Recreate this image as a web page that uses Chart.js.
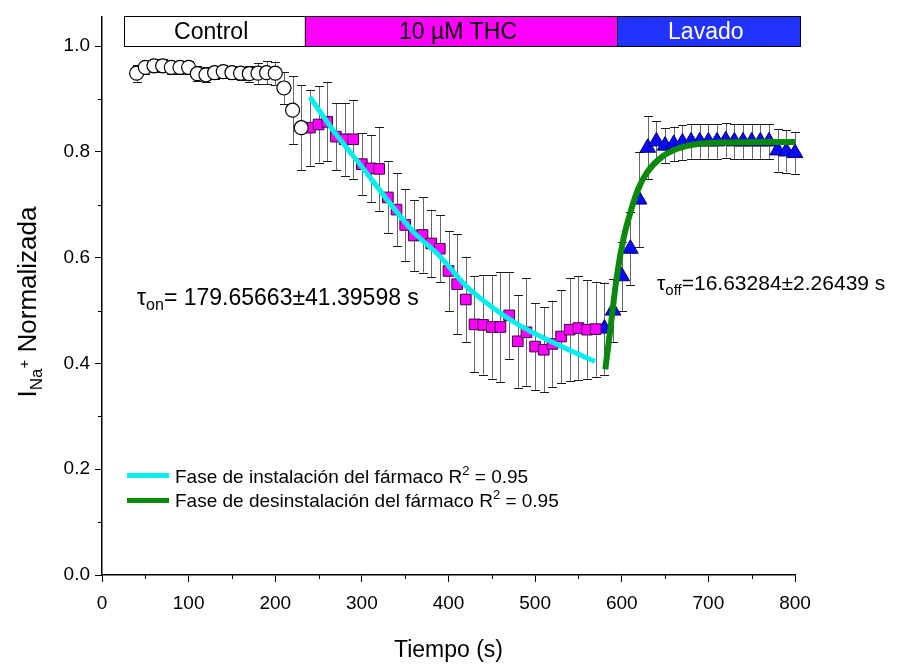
<!DOCTYPE html>
<html>
<head>
<meta charset="utf-8">
<script src="https://cdn.jsdelivr.net/npm/chart.js@4/dist/chart.umd.min.js"></script>
<style>
  html, body { margin: 0; padding: 0; background: #ffffff; }
  #wrap { width: 905px; height: 664px; }
</style>
</head>
<body>
<div id="wrap"><canvas id="c" width="905" height="664"></canvas></div>
<script>
// ---------------- data ----------------
const controlTime  = [40,50,60,70,80,90,100,110,120,130,140,150,160,170,180,190,200,210,220,230];
const controlValue = [0.949,0.960,0.963,0.963,0.960,0.960,0.960,0.948,0.946,0.950,0.952,0.950,0.949,0.948,0.949,0.950,0.949,0.921,0.879,0.846];
const controlError = [0.016,0.012,0.012,0.012,0.012,0.012,0.012,0.014,0.014,0.012,0.012,0.012,0.012,0.015,0.020,0.022,0.022,0.030,0.064,0.080];

const thcTime  = [240,250,260,270,280,290,300,310,320,330,340,350,360,370,380,390,400,410,420,430,440,450,460,470,480,490,500,510,520,530,540,550,560,570];
const thcValue = [0.846,0.852,0.857,0.829,0.824,0.824,0.777,0.769,0.768,0.714,0.691,0.662,0.642,0.643,0.627,0.617,0.575,0.550,0.521,0.474,0.473,0.469,0.469,0.491,0.442,0.459,0.432,0.426,0.437,0.451,0.464,0.467,0.464,0.465];
const thcError = [0.072,0.072,0.075,0.064,0.069,0.075,0.058,0.064,0.080,0.068,0.069,0.068,0.067,0.071,0.064,0.063,0.076,0.095,0.081,0.091,0.094,0.098,0.104,0.082,0.088,0.102,0.082,0.080,0.082,0.088,0.097,0.098,0.093,0.090];

const washTime  = [580,590,600,610,620,630,640,650,660,670,680,690,700,710,720,730,740,750,760,770,780,790,800];
const washValue = [0.466,0.500,0.565,0.617,0.710,0.808,0.820,0.812,0.815,0.818,0.820,0.820,0.820,0.820,0.822,0.820,0.820,0.820,0.820,0.820,0.803,0.801,0.798];
const washError = [0.087,0.060,0.065,0.069,0.090,0.060,0.038,0.033,0.033,0.033,0.033,0.033,0.033,0.033,0.033,0.033,0.033,0.033,0.033,0.033,0.040,0.040,0.040];

const fitOnTime   = [240,270,300,330,360,390,420,450,480,510,540,569];
const fitOnValue  = [0.904,0.834,0.772,0.708,0.648,0.603,0.547,0.507,0.474,0.448,0.425,0.404];
const fitOffTime  = [581,587,594,602,610,619,629,645,664,687,725,800];
const fitOffValue = [0.389,0.467,0.561,0.636,0.686,0.730,0.761,0.789,0.806,0.815,0.818,0.819];

const phaseLabels = ['Control', '10 µM THC', 'Lavado'];
const phaseBounds = [25, 234, 595, 806];

const xTickValues = [0,100,200,300,400,500,600,700,800];
const yTickValues = [0.0,0.2,0.4,0.6,0.8,1.0];

const fitOnLabel  = 'Fase de instalación del fármaco';
const fitOffLabel = 'Fase de desinstalación del fármaco';
const fitR2 = ['0.95', '0.95'];
const tauOn  = '179.65663±41.39598';
const tauOff = '16.63284±2.26439';

// ---------------- helpers ----------------
const FONT = '"Liberation Sans", Arial, Helvetica, sans-serif';
const pts = (xs, ys) => xs.map((x, i) => ({ x: x, y: ys[i] }));

function drawRuns(ctx, x, y, runs) {
  let cx = x;
  runs.forEach(r => {
    ctx.font = r.size + 'px ' + FONT;
    ctx.fillText(r.t, cx, y + (r.dy || 0));
    cx += ctx.measureText(r.t).width;
  });
  return cx - x;
}
function measureRuns(ctx, runs) {
  let w = 0;
  runs.forEach(r => { ctx.font = r.size + 'px ' + FONT; w += ctx.measureText(r.t).width; });
  return w;
}

const errorSets = [
  { t: controlTime, v: controlValue, e: controlError },
  { t: thcTime, v: thcValue, e: thcError },
  { t: washTime, v: washValue, e: washError }
];

const decorPlugin = {
  id: 'decor',
  beforeDatasetsDraw(chart) {
    const ctx = chart.ctx, xs = chart.scales.x, ys = chart.scales.y, ca = chart.chartArea;
    // phase bar
    const fills = ['#ffffff', '#ff00ff', '#2233ff'];
    const textCol = ['#000000', '#000000', '#ffffff'];
    const yb = ys.getPixelForValue(1.0), yt = ca.top;
    ctx.save();
    for (let i = 0; i < phaseLabels.length; i++) {
      const x0 = xs.getPixelForValue(phaseBounds[i]), x1 = xs.getPixelForValue(phaseBounds[i + 1]);
      ctx.fillStyle = fills[i];
      ctx.fillRect(x0, yt, x1 - x0, yb - yt);
      ctx.strokeStyle = '#000';
      ctx.lineWidth = 1;
      ctx.strokeRect(Math.round(x0) + 0.5, Math.round(yt) + 0.5, Math.round(x1 - x0), Math.round(yb - yt));
      ctx.fillStyle = textCol[i];
      ctx.font = '23px ' + FONT;
      ctx.textAlign = 'center';
      ctx.textBaseline = 'middle';
      ctx.fillText(phaseLabels[i], (x0 + x1) / 2 - 3, (yt + yb) / 2 + 1);
    }
    // error bars
    ctx.lineWidth = 1;
    errorSets.forEach(s => {
      s.t.forEach((t, i) => {
        const px = Math.round(xs.getPixelForValue(t)) + 0.5;
        const pTop = ys.getPixelForValue(s.v[i] + s.e[i]);
        const pBot = ys.getPixelForValue(s.v[i] - s.e[i]);
        ctx.strokeStyle = '#666666';
        ctx.beginPath();
        ctx.moveTo(px, pTop); ctx.lineTo(px, pBot);
        ctx.stroke();
        ctx.strokeStyle = '#1a1a1a';
        ctx.beginPath();
        ctx.moveTo(px - 4.5, Math.round(pTop) + 0.5); ctx.lineTo(px + 4.5, Math.round(pTop) + 0.5);
        ctx.moveTo(px - 4.5, Math.round(pBot) + 0.5); ctx.lineTo(px + 4.5, Math.round(pBot) + 0.5);
        ctx.stroke();
      });
    });
    ctx.restore();
  },
  afterDraw(chart) {
    const ctx = chart.ctx, xs = chart.scales.x, ys = chart.scales.y, ca = chart.chartArea;
    ctx.save();
    // minor ticks
    ctx.strokeStyle = '#000';
    ctx.lineWidth = 1;
    ctx.beginPath();
    for (let v = 50; v < 800; v += 100) {
      const px = Math.round(xs.getPixelForValue(v)) + 0.5;
      ctx.moveTo(px, ca.bottom); ctx.lineTo(px, ca.bottom + 4);
    }
    for (let v = 0.1; v < 1.05; v += 0.2) {
      const py = Math.round(ys.getPixelForValue(v)) + 0.5;
      ctx.moveTo(ca.left, py); ctx.lineTo(ca.left - 4, py);
    }
    ctx.stroke();

    ctx.fillStyle = '#000';
    ctx.textAlign = 'left';
    ctx.textBaseline = 'alphabetic';
    // legend
    const legend = [
      { label: fitOnLabel, color: chart.data.datasets[0].borderColor, r2: fitR2[0], y: ys.getPixelForValue(0.188) },
      { label: fitOffLabel, color: chart.data.datasets[1].borderColor, r2: fitR2[1], y: ys.getPixelForValue(0.141) }
    ];
    legend.forEach(l => {
      ctx.strokeStyle = l.color;
      ctx.lineWidth = 5;
      ctx.beginPath();
      ctx.moveTo(127, l.y); ctx.lineTo(169, l.y);
      ctx.stroke();
      ctx.fillStyle = '#000';
      drawRuns(ctx, 175, l.y + 7, [
        { t: l.label + ' R', size: 19 },
        { t: '2', size: 13, dy: -8 },
        { t: ' = ' + l.r2, size: 19 }
      ]);
    });
    // tau annotations
    drawRuns(ctx, 137, ys.getPixelForValue(0.511), [
      { t: 'τ', size: 23 },
      { t: 'on', size: 16, dy: 5 },
      { t: '= ' + tauOn + ' s', size: 23 }
    ]);
    drawRuns(ctx, 657, ys.getPixelForValue(0.539), [
      { t: 'τ', size: 21 },
      { t: 'off', size: 15, dy: 5 },
      { t: '=' + tauOff + ' s', size: 21 }
    ]);
    // x title
    ctx.font = '23px ' + FONT;
    ctx.textAlign = 'center';
    ctx.fillText('Tiempo (s)', (ca.left + ca.right) / 2, 657);
    // y title
    ctx.textAlign = 'left';
    const yRuns = [
      { t: 'I', size: 26 },
      { t: 'Na', size: 17, dy: 6 },
      { t: '+', size: 15, dy: -7 },
      { t: ' Normalizada', size: 26 }
    ];
    const w = measureRuns(ctx, yRuns);
    ctx.translate(36, 302);
    ctx.rotate(-Math.PI / 2);
    drawRuns(ctx, -w / 2, 0, yRuns);
    ctx.restore();
  }
};

new Chart(document.getElementById('c'), {
  type: 'scatter',
  data: {
    datasets: [
      { label: fitOnLabel, data: pts(fitOnTime, fitOnValue), showLine: true, borderColor: '#00f0f0',
        borderWidth: 5, pointRadius: 0, cubicInterpolationMode: 'monotone', order: 0, clip: false },
      { label: fitOffLabel, data: pts(fitOffTime, fitOffValue), showLine: true, borderColor: '#0a8a0a',
        borderWidth: 6, pointRadius: 0, cubicInterpolationMode: 'monotone', order: 0, clip: false },
      { label: 'Control', data: pts(controlTime, controlValue), pointStyle: 'circle', pointRadius: 7,
        backgroundColor: '#ffffff', borderColor: '#000000', borderWidth: 1.2, order: 1, clip: false },
      { label: '10 µM THC', data: pts(thcTime, thcValue), pointStyle: 'rect', pointRadius: 7.5,
        backgroundColor: '#ff00ff', borderColor: '#3a003a', borderWidth: 1, order: 1, clip: false },
      { label: 'Lavado', data: pts(washTime, washValue), pointStyle: 'triangle', pointRadius: 9,
        backgroundColor: '#0a0aff', borderColor: '#00005a', borderWidth: 1, order: 1, clip: false }
    ]
  },
  options: {
    responsive: false,
    animation: false,
    events: [],
    layout: { padding: { top: 13, right: 110, left: 0, bottom: 0 } },
    plugins: { legend: { display: false }, tooltip: { enabled: false } },
    scales: {
      x: {
        type: 'linear', min: 0, max: 800,
        afterFit: s => { s.height = 89; },
        afterBuildTicks: s => { s.ticks = xTickValues.map(v => ({ value: v })); },
        ticks: { color: '#000', font: { family: FONT, size: 19 }, padding: 10, maxRotation: 0,
                 callback: v => String(v) },
        grid: { display: true, drawOnChartArea: false, drawTicks: true, tickLength: 7, tickColor: '#000', tickWidth: 1 },
        border: { display: true, color: '#000', width: 1.5 }
      },
      y: {
        type: 'linear', min: 0, max: 1.0564,
        afterFit: s => { s.width = 102; },
        afterBuildTicks: s => { s.ticks = yTickValues.map(v => ({ value: v })); },
        ticks: { color: '#000', font: { family: FONT, size: 19 }, padding: 5,
                 callback: v => Number(v).toFixed(1) },
        grid: { display: true, drawOnChartArea: false, drawTicks: true, tickLength: 7, tickColor: '#000', tickWidth: 1 },
        border: { display: true, color: '#000', width: 1.5 }
      }
    }
  },
  plugins: [decorPlugin]
});
</script>
</body>
</html>
